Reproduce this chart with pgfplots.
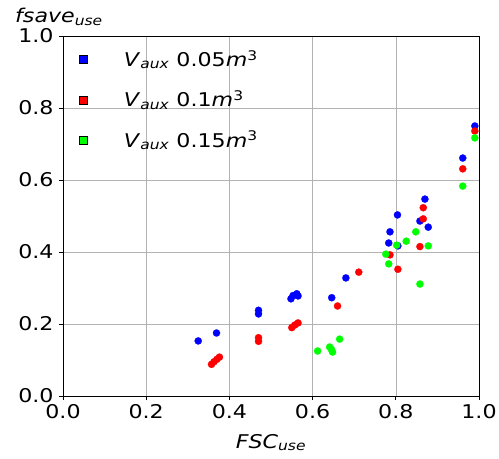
\documentclass[border=0pt]{standalone}
\usepackage{pgfplots}
\pgfplotsset{compat=1.18}
\usepackage{fontspec}
\setmainfont{DejaVu Sans}[FakeStretch=1.17]
\begin{document}
\fontsize{19}{23}\selectfont
\begin{tikzpicture}[x=1bp,y=1bp]
\begin{axis}[
  name=ax,
  scale only axis,
  width=416bp, height=360bp,
  xmin=0, xmax=1, ymin=0, ymax=1,
  xtick={0,0.2,...,1.0}, ytick={0,0.2,...,1.0},
  grid=major,
  grid style={color=black!30, line width=0.6pt},
  axis line style={black, line width=0.8pt},
  tick align=outside,
  tick pos=left,
  major tick length=4bp,
  tick style={black, line width=0.8pt},
  /pgf/number format/fixed,
  /pgf/number format/fixed zerofill,
  /pgf/number format/precision=1,
  /pgf/number format/assume math mode=true,
  tick label style={font=\fontsize{19}{23}\selectfont},
  xticklabel style={yshift=2bp},
  yticklabel style={xshift=1bp},
  legend style={draw=none, fill=none, inner sep=0pt, at={(0,1)}, anchor=north west,
    xshift=12bp, yshift=-12bp,
    font=\fontsize{19}{23}\selectfont, row sep=17.5bp, column sep=34bp},
  legend cell align=left,
  only marks,
]
\addplot[blue, mark=*, mark size=3.6bp, mark options={line width=0.2pt, fill=blue},
  legend image code/.code={\node[draw=black, line width=0.5pt, fill=blue, minimum size=8bp, inner sep=0pt] at (4bp,0) {};\path (0,0) (8bp,0);}]
  coordinates {
(0.325,0.153) (0.369,0.175) (0.470,0.228) (0.470,0.238)
(0.548,0.270) (0.553,0.279) (0.562,0.284) (0.565,0.278)
(0.646,0.273) (0.680,0.328) (0.783,0.425) (0.786,0.456)
(0.804,0.503) (0.805,0.417) (0.858,0.486) (0.870,0.547)
(0.878,0.469) (0.961,0.661) (0.990,0.750)
};
\addlegendentry{\textit{V}\textsubscript{\textit{aux}} 0.05\textit{m}\textsuperscript{3}}
\addplot[red, mark=*, mark size=3.6bp, mark options={line width=0.2pt, fill=red},
  legend image code/.code={\node[draw=black, line width=0.5pt, fill=red, minimum size=8bp, inner sep=0pt] at (4bp,0) {};\path (0,0) (8bp,0);}]
  coordinates {
(0.357,0.088) (0.363,0.095) (0.370,0.102) (0.376,0.108)
(0.470,0.152) (0.470,0.162) (0.550,0.190) (0.557,0.197)
(0.565,0.203) (0.660,0.250) (0.711,0.344) (0.786,0.392)
(0.805,0.352) (0.858,0.415) (0.866,0.492) (0.866,0.523)
(0.961,0.631) (0.990,0.736)
};
\addlegendentry{\textit{V}\textsubscript{\textit{aux}} 0.1\textit{m}\textsuperscript{3}}
\addplot[green, mark=*, mark size=3.6bp, mark options={line width=0.2pt, fill=green},
  legend image code/.code={\node[draw=black, line width=0.5pt, fill=green, minimum size=8bp, inner sep=0pt] at (4bp,0) {};\path (0,0) (8bp,0);}]
  coordinates {
(0.612,0.125) (0.641,0.136) (0.645,0.130) (0.648,0.122)
(0.665,0.158) (0.776,0.394) (0.783,0.367) (0.802,0.419)
(0.825,0.430) (0.848,0.456) (0.858,0.311) (0.878,0.417)
(0.961,0.583) (0.990,0.717)
};
\addlegendentry{\textit{V}\textsubscript{\textit{aux}} 0.15\textit{m}\textsuperscript{3}}
\end{axis}
\node[anchor=base west, inner sep=0pt] at ([xshift=-48bp, yshift=13bp]ax.north west)
  {\textit{fsave}\textsubscript{\textit{use}}};
\node[anchor=base, inner sep=0pt] at ([yshift=-52bp]ax.south)
  {\textit{FSC}\textsubscript{\textit{use}}};
\pgfresetboundingbox
\path ([xshift=-63bp, yshift=-63bp]ax.south west) rectangle ([xshift=20bp, yshift=36bp]ax.north east);
\end{tikzpicture}
\end{document}
